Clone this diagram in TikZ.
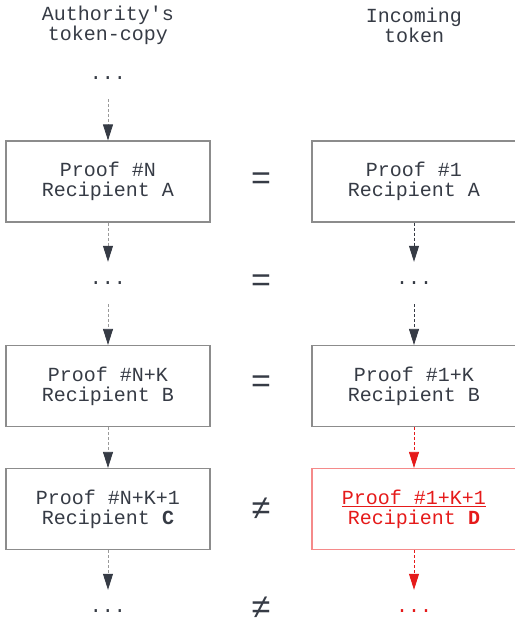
\documentclass[tikz,border=0pt]{standalone}
\usepackage{fontspec}
\setmonofont{Liberation Mono}
\usetikzlibrary{arrows.meta}
\usepackage{xcolor}
\definecolor{ink}{HTML}{363B45}
\definecolor{frame}{HTML}{8C8C8C}
\definecolor{trail}{HTML}{9A9A9A}
\definecolor{alert}{HTML}{E51A1A}
\definecolor{alertframe}{HTML}{F58A8A}

\begin{document}
\begin{tikzpicture}[%
    x=1pt, y=-1pt,
    header/.style={
      font=\ttfamily\fontsize{20}{20}\selectfont,
      text=ink,
      align=center
    },
    proof/.style={
      rectangle,
      draw=frame,
      line width=1.2pt,
      minimum width=204pt,
      minimum height=81pt,
      align=center,
      text=ink,
      font=\ttfamily\fontsize{20}{20}\selectfont
    },
    badProof/.style={
      proof,
      draw=alertframe,
      text=alert
    },
    dots/.style={
      text=ink,
      inner sep=0pt,
      minimum height=42pt,
      font=\ttfamily\fontsize{20}{20}\selectfont
    },
    relation/.style={
      text=ink,
      inner sep=0pt,
      font=\ttfamily\fontsize{34}{34}\selectfont
    },
    flow/.style={
      draw=trail,
      line width=0.8pt,
      dash pattern=on 3pt off 2pt,
      -{Triangle[width=10pt,length=16pt,color=ink]}
    },
    darkFlow/.style={flow, draw=ink},
    redFlow/.style={flow, draw=alert, -{Triangle[width=10pt,length=16pt,color=alert]}}
  ]

    % page size
    \useasboundingbox (0,0) rectangle (514,626);

    % column titles
    \draw (108,25) node[header] (HA) {Authority's\\token-copy}
          (414,25) node[header] (HI) {Incoming\\token};

    % authority's copy
    \draw (108,78)    node[dots]  (A0) {...}
          (108,181.5) node[proof] (A1) {Proof \#N\\Recipient A}
          (108,283)   node[dots]  (A2) {...}
          (108,386)   node[proof] (A3) {Proof \#N+K\\Recipient B}
          (108,509)   node[proof] (A4) {Proof \#N+K+1\\Recipient \textbf{C}}
          (108,611)   node[dots]  (A5) {...};

    % incoming token
    \draw (414,181.5) node[proof]    (I1) {Proof \#1\\Recipient A}
          (414,283)   node[dots]     (I2) {...}
          (414,386)   node[proof]    (I3) {Proof \#1+K\\Recipient B}
          (414,509)   node[badProof] (I4) {\underline{Proof \#1+K+1}\\Recipient \textbf{D}}
          (414,611)   node[dots, text=alert] (I5) {...};

    % comparison
    \draw (261,181) node[relation] (R1) {=}
          (261,283) node[relation] (R2) {=}
          (261,384) node[relation] (R3) {=}
          (261,509) node[relation] (R4) {≠}
          (261,608) node[relation] (R5) {≠};

    \draw[flow] (A0) -- (A1);
    \draw[flow] (A1) -- (A2);
    \draw[flow] (A2) -- (A3);
    \draw[flow] (A3) -- (A4);
    \draw[flow] (A4) -- (A5);

    \draw[darkFlow] (I1) -- (I2);
    \draw[darkFlow] (I2) -- (I3);
    \draw[redFlow]  (I3) -- (I4);
    \draw[redFlow]  (I4) -- (I5);
\end{tikzpicture}
\end{document}
